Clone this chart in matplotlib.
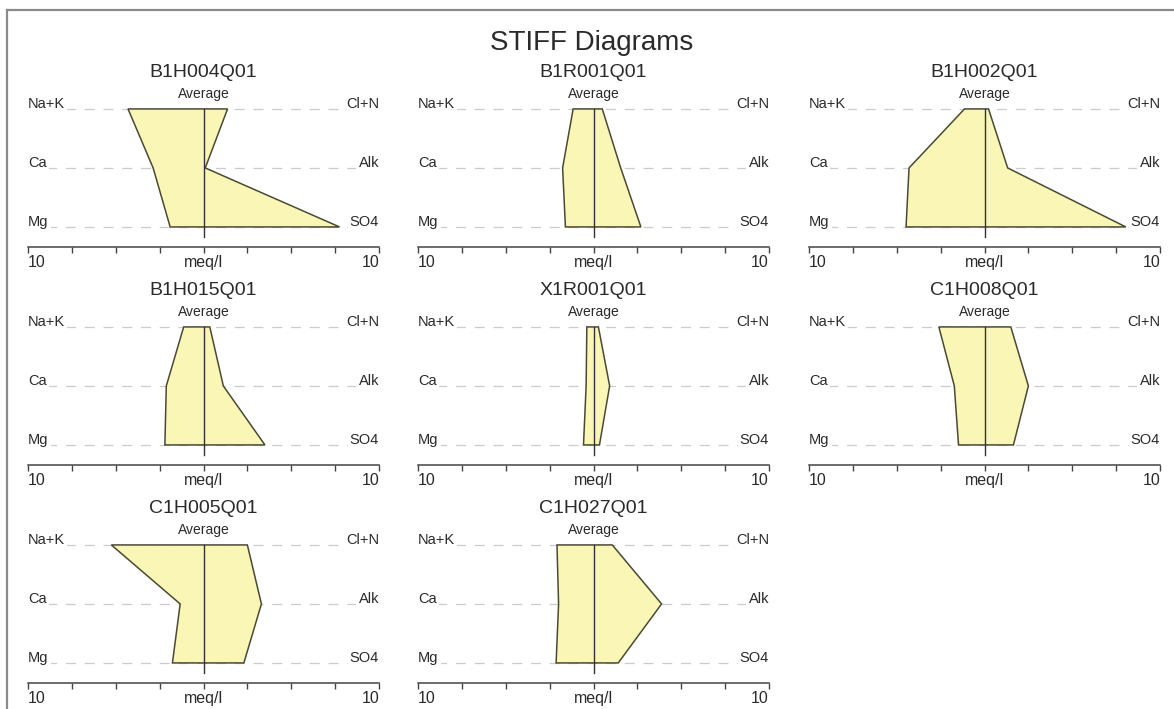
import matplotlib
matplotlib.use("Agg")
import matplotlib.pyplot as plt
from matplotlib.lines import Line2D

plt.rcParams["font.family"] = ["Liberation Sans", "DejaVu Sans"]

# values in meq/l (cations left, anions right)
stations = ["B1H004Q01", "B1R001Q01", "B1H002Q01",
            "B1H015Q01", "X1R001Q01", "C1H008Q01",
            "C1H005Q01", "C1H027Q01"]
na_k = [4.3, 1.16, 1.14, 1.13, 0.38, 2.6, 5.25, 2.08]
ca = [2.87, 1.76, 4.3, 2.12, 0.42, 1.72, 1.33, 1.99]
mg = [1.9, 1.6, 4.47, 2.2, 0.57, 1.48, 1.77, 2.13]
cl_n = [1.37, 0.5, 0.23, 0.36, 0.28, 1.5, 2.5, 1.07]
alk = [0.1, 1.55, 1.32, 1.13, 0.92, 2.5, 3.3, 3.88]
so4 = [7.75, 2.7, 8.05, 3.5, 0.34, 1.65, 2.3, 1.41]

cations = ["Na+K", "Ca", "Mg"]
anions = ["Cl+N", "Alk", "SO4"]

W, H = 1174, 709
fig = plt.figure(figsize=(W / 100, H / 100), dpi=100)

txt = "#2a2a2a"
fill = "#FAF6B6"
edge = "#4a4a34"

col_left = [28, 418, 809]
row_axis = [247, 465, 683]
px_unit = 59.0
ybot, ytop = -0.34, 2.3

fig.text(592 / W, 1 - 43 / H, "STIFF Diagrams", ha="center", va="center",
         fontsize=20, color=txt)

for i, name in enumerate(stations):
    r, c = divmod(i, 3)
    left = col_left[c]
    bottom = row_axis[r]
    hgt = (ytop - ybot) * px_unit
    ax = fig.add_axes([left / W, 1 - bottom / H, 351 / W, hgt / H])
    ax.set_xlim(-10, 10)
    ax.set_ylim(ybot, ytop)

    for s in ["top", "left", "right"]:
        ax.spines[s].set_visible(False)
    ax.spines["bottom"].set_color("#444444")
    ax.spines["bottom"].set_linewidth(1.1)
    ax.set_yticks([])
    ax.set_xticks([-10, -7.5, -5, -2.5, 0, 2.5, 5, 7.5, 10])
    ax.set_xticklabels(["10", "", "", "", "meq/l", "", "", "", "10"])
    ax.tick_params(axis="x", direction="out", length=4, width=1,
                   color="#444444", labelsize=11.5, labelcolor=txt, pad=2)
    lbls = ax.get_xticklabels()
    lbls[0].set_ha("left")
    lbls[-1].set_ha("right")
    ax.patch.set_alpha(0)

    levels = [2, 1, 0]
    for y in levels:
        ax.plot([-10, 10], [y, y], color="#cccccc", lw=0.9,
                dashes=(8, 7), zorder=1)
    for y, lab in zip(levels, cations):
        ax.text(-10, y + 0.02, lab, ha="left", va="baseline", fontsize=10.5,
                color=txt, zorder=3,
                bbox=dict(facecolor="white", edgecolor="none", pad=1.5))
    for y, lab in zip(levels, anions):
        ax.text(10, y + 0.02, lab, ha="right", va="baseline", fontsize=10.5,
                color=txt, zorder=3,
                bbox=dict(facecolor="white", edgecolor="none", pad=1.5))

    xs = [-na_k[i], -ca[i], -mg[i], so4[i], alk[i], cl_n[i]]
    ys = [2, 1, 0, 0, 1, 2]
    ax.fill(xs, ys, facecolor=fill, edgecolor=edge, lw=1.1, zorder=2)
    ax.plot([0, 0], [2, -0.17], color="#333333", lw=1, zorder=4)

    ax.text(0, 2 + 36 / px_unit, name, ha="center", va="center",
            fontsize=14, color=txt, clip_on=False)
    ax.text(0, 2 + 15 / px_unit, "Average", ha="center", va="center",
            fontsize=10, color=txt, clip_on=False)

# frame lines of the page
fig.add_artist(Line2D([7 / W, 1], [1 - 10 / H, 1 - 10 / H],
                      color="#8a8a8a", lw=1.6))
fig.add_artist(Line2D([7 / W, 7 / W], [0, 1 - 10 / H],
                      color="#8a8a8a", lw=1.6))

fig.savefig("out.png", dpi=100, facecolor="white")
